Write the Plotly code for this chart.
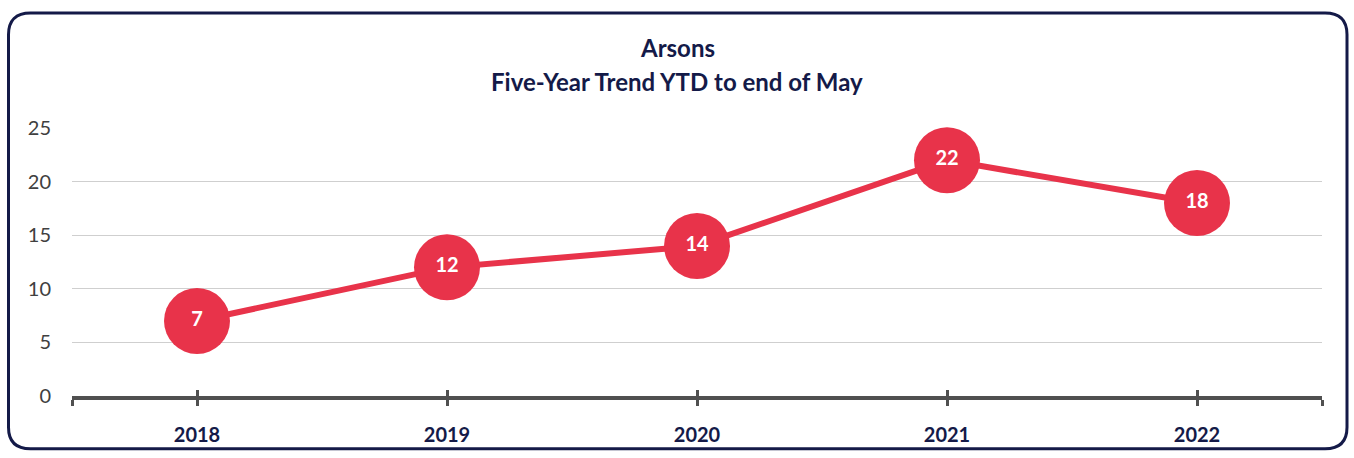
import plotly.graph_objects as go

years = ["2018", "2019", "2020", "2021", "2022"]
arsons = [7, 12, 14, 22, 18]
y_ticks = [0, 5, 10, 15, 20, 25]
title_lines = ["Arsons", "Five-Year Trend YTD to end of May"]

W, H = 1354, 458
L, R, T, B = 72, 32, 128, 56
pw, ph = W - L - R, H - T - B

x_idx = list(range(len(years)))
NAVY = "#141a48"

fig = go.Figure()
fig.add_trace(go.Scatter(
    x=x_idx, y=arsons, mode="lines+markers+text",
    line=dict(color="#E8334A", width=6),
    marker=dict(size=66, color="#E8334A", line=dict(width=0)),
    text=[str(v) for v in arsons], textposition="middle center",
    textfont=dict(family="Lato", size=20, color="white", weight="bold"),
    cliponaxis=False, showlegend=False, hoverinfo="skip",
))
fig.add_trace(go.Scatter(x=x_idx, y=arsons, xaxis="x2", mode="none",
                         showlegend=False, hoverinfo="skip"))

def P(x, y):
    a, b = (x - L) / pw, (H - B - y) / ph
    return f"{a:.5f},{b:.5f}"

# rounded border
x0, y0, x1, y1, r = 8.5, 10.5, 1347, 456, 22
path = (f"M {P(x0 + r, y0)} L {P(x1 - r, y0)} Q {P(x1, y0)} {P(x1, y0 + r)} "
        f"L {P(x1, y1 - r)} Q {P(x1, y1)} {P(x1 - r, y1)} "
        f"L {P(x0 + r, y1)} Q {P(x0, y1)} {P(x0, y1 - r)} "
        f"L {P(x0, y0 + r)} Q {P(x0, y0)} {P(x0 + r, y0)} Z")
fig.add_shape(type="path", path=path, xref="paper", yref="paper",
              line=dict(color=NAVY, width=3), layer="below")

# title lines
for txt, cy in zip(title_lines, [46, 80]):
    fig.add_annotation(text=txt, xref="paper", yref="paper",
                       x=(W / 2 - L) / pw, y=(H - B - cy) / ph,
                       xanchor="center", yanchor="middle", showarrow=False,
                       font=dict(family="Lato", size=24, color=NAVY, weight="bold"))

tickvals = [-0.5] + x_idx + [len(years) - 0.5]
ticktext = [""] + years + [""]

fig.update_layout(
    width=W, height=H,
    margin=dict(l=L, r=R, t=T, b=B),
    paper_bgcolor="white", plot_bgcolor="white",
    xaxis=dict(range=[-0.5, len(years) - 0.5], tickvals=tickvals, ticktext=ticktext,
               showgrid=False, zeroline=False, showline=True,
               linecolor="#505050", linewidth=4,
               ticks="outside", ticklen=6, tickwidth=3, tickcolor="#505050",
               tickfont=dict(family="Lato", size=20, color=NAVY, weight="bold"),
               ticklabelstandoff=12, fixedrange=True),
    xaxis2=dict(range=[-0.5, len(years) - 0.5], tickvals=tickvals, overlaying="x",
                side="bottom", showticklabels=False, showgrid=False, zeroline=False,
                ticks="inside", ticklen=6, tickwidth=3, tickcolor="#505050",
                showline=False),
    yaxis=dict(range=[0, 25], tickvals=y_ticks, showgrid=True,
               gridcolor="#cfcfcf", gridwidth=1.3, zeroline=False,
               tickfont=dict(family="Lato", size=20, color="#404040"),
               ticks="", ticklabelstandoff=20, fixedrange=True),
)

fig.write_html("out.html", config={"displayModeBar": False},
               post_script="document.body.style.margin='0';document.body.style.overflow='hidden';")
